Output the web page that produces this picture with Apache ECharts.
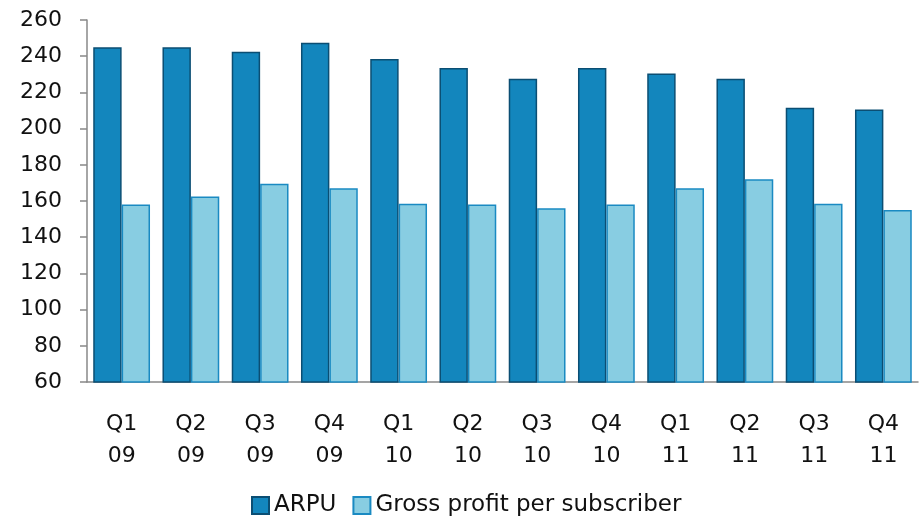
<!DOCTYPE html>
<html>
<head>
    <meta charset="utf-8">
    <title>ARPU</title>
    <script src="https://cdn.jsdelivr.net/npm/echarts@6/dist/echarts.min.js"></script>
    <style>
        html, body { margin: 0; padding: 0; background: #fff; }
    </style>
</head>
<body>
<div id="main" style="width: 920px;height:518px"></div>
<script type="text/javascript">
    // data
    var quarters = ['Q1\n09', 'Q2\n09', 'Q3\n09', 'Q4\n09', 'Q1\n10', 'Q2\n10', 'Q3\n10', 'Q4\n10', 'Q1\n11', 'Q2\n11', 'Q3\n11', 'Q4\n11'];
    var arpu = [245, 245, 242.5, 247.5, 238.5, 233.5, 227.5, 233.5, 230.5, 227.5, 211.5, 210.5];
    var grossProfit = [158, 162.5, 169.5, 167, 158.5, 158, 156, 158, 167, 172, 158.5, 155];

    var font = 'DejaVu Sans';
    var myChart = echarts.init(document.getElementById('main'));
    var option = {
        animation: false,
        textStyle: { fontFamily: font },
        grid: { left: 87, right: 2, top: 20, bottom: 136 },
        legend: {
            top: 489,
            left: 246,
            icon: 'rect',
            itemWidth: 17,
            itemHeight: 17,
            itemGap: 16,
            textStyle: { fontFamily: font, fontSize: 23, color: '#111' },
            data: ['ARPU', 'Gross profit per subscriber']
        },
        xAxis: {
            type: 'category',
            data: quarters,
            axisLine: { lineStyle: { color: '#888', width: 1.5 } },
            axisTick: { length: 7, lineStyle: { color: '#888', width: 1.5 } },
            axisLabel: { fontFamily: font, fontSize: 22, color: '#111', lineHeight: 32, margin: 26 }
        },
        yAxis: {
            type: 'value',
            min: 60,
            max: 260,
            interval: 20,
            splitLine: { show: false },
            axisLine: { show: true, lineStyle: { color: '#888', width: 1.5 } },
            axisTick: { show: true, length: 7, lineStyle: { color: '#888', width: 1.5 } },
            axisLabel: { fontFamily: font, fontSize: 22, color: '#111', margin: 25 }
        },
        series: [
            {
                name: 'ARPU',
                type: 'bar',
                data: arpu,
                barGap: '0%',
                barCategoryGap: '18%',
                itemStyle: { color: '#1386BD', borderColor: '#0B4E73', borderWidth: 1.5 }
            },
            {
                name: 'Gross profit per subscriber',
                type: 'bar',
                data: grossProfit,
                itemStyle: { color: '#88CDE2', borderColor: '#1A8AC2', borderWidth: 1.5 }
            }
        ]
    };
    myChart.setOption(option);
</script>
</body>
</html>
